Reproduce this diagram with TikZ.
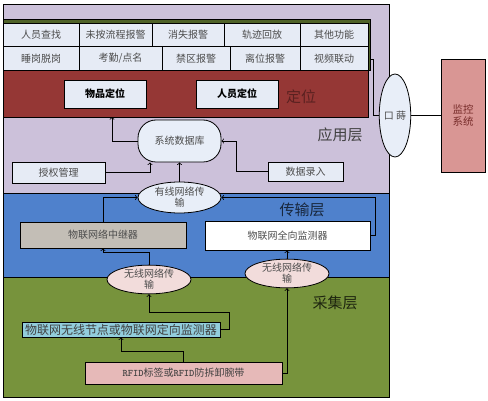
\documentclass[tikz,border=0pt]{standalone}
\usepackage{fontspec}
\setmainfont{Noto Sans CJK SC}
\usetikzlibrary{arrows,calc,shapes.geometric}
\definecolor{AppClr}{HTML}{CCC1DA}
\definecolor{NetClr}{HTML}{4F81CC}
\definecolor{ColClr}{HTML}{77933C}
\definecolor{FrameClr}{HTML}{4F6228}
\definecolor{BandClr}{HTML}{953735}
\definecolor{CellClr}{HTML}{E6EBF5}
\definecolor{WiredClr}{HTML}{E8EEF8}
\definecolor{WlClr}{HTML}{F2DCDB}
\definecolor{RelayClr}{HTML}{C3BEB6}
\definecolor{NodeClr}{HTML}{92CDDC}
\definecolor{RfidClr}{HTML}{E6B9B8}
\definecolor{MonClr}{HTML}{D99694}

\begin{document}
\begin{tikzpicture}[x=1pt,y=-1pt,>=to,line width=0.8pt,
  box/.style={draw,inner sep=0pt,font=\fontsize{10}{11}\selectfont},
  cell/.style={box,fill=CellClr,minimum height=23.5pt,text=black!70},
  oval/.style={draw,ellipse,inner sep=0pt,align=center,font=\fontsize{10}{11}\selectfont,text=black!70},
  layer/.style={font=\fontsize{15}{15}\selectfont}]
\useasboundingbox (0,0) rectangle (488,401);

% layers
\draw[fill=AppClr] (3,4) rectangle (389,193);
\draw[fill=NetClr] (3,193) rectangle (389,277);
\draw[fill=ColClr] (3,277) rectangle (389,397);
\draw[fill=FrameClr] (3,19) rectangle (370,70);
\draw[fill=BandClr] (3,70) rectangle (368,117);

\foreach \xa/\xb/\txt [count=\i] in {3/79/人员查找,79/152/未按流程报警,152/224/消失报警,224/300/轨迹回放,300/368/其他功能}
  \node[cell,minimum width={\xb-\xa}] (ra\i) at ({(\xa+\xb)/2},34.75) {\txt};
\foreach \xa/\xb/\txt [count=\i] in {3/79/睡岗脱岗,79/162/{考勤/点名},162/230/禁区报警,230/300/离位报警,300/368/视频联动}
  \node[cell,minimum width={\xb-\xa}] (rb\i) at ({(\xa+\xb)/2},58.25) {\txt};

\node[box,fill=CellClr,minimum width=82,minimum height=28,font=\fontsize{10}{11}\selectfont\bfseries] (goods) at (105,94) {物品定位};
\node[box,fill=CellClr,minimum width=82,minimum height=28,font=\fontsize{10}{11}\selectfont\bfseries] (staff) at (237,94) {人员定位};
\node[layer,text=BandClr!60!black] (loc) at (301,97) {定位};

\node[layer,text=black!75] (app) at (340,135) {应用层};
\node[layer,text=NetClr!30!black] (net) at (302,210) {传输层};
\node[layer,text=ColClr!25!black] (col) at (335,303) {采集层};

\node[box,fill=WiredClr,rounded corners=18pt,minimum width=83,minimum height=42,text=black!70] (db) at (179.5,141) {系统数据库};
\node[box,fill=CellClr,minimum width=93,minimum height=21,text=black!70] (auth) at (58.5,172.5) {授权管理};
\node[box,fill=CellClr,minimum width=75,minimum height=19,text=black!70] (entry) at (305.5,171.5) {数据录入};

\node[oval,fill=WiredClr,minimum width=83,minimum height=31] (wired) at (179.5,197.5) {有线网络传\\输};
\node[box,fill=RelayClr,minimum width=166,minimum height=26,text=black!70] (relay) at (103,235) {物联网络中继器};
\node[box,fill=white,minimum width=165,minimum height=29,text=black!70] (omni) at (287.5,235.5) {物联网全向监测器};

\node[oval,fill=WlClr,minimum width=84,minimum height=25] (wlL) at (149,279.5) {无线网络传\\输};
\node[oval,fill=WlClr,minimum width=84,minimum height=27] (wlR) at (287,273.5) {无线网络传\\输};

\node[box,fill=NodeClr,minimum width=198,minimum height=15,font=\fontsize{12}{12}\selectfont,text=black!75] (sensor) at (121,329.5) {物联网无线节点或物联网定向监测器};
\node[box,fill=RfidClr,minimum width=197,minimum height=22,text=black!75] (rfid) at (183.5,373) {{\ttfamily\bfseries RFID}标签或{\ttfamily\bfseries RFID}防拆卸腕带};

\node[box,fill=MonClr,minimum width=44,minimum height=113,align=center,font=\fontsize{10.5}{12.5}\selectfont,text=BandClr!80!black] (mon) at (463,115.5) {监控\\系统};
\node[oval,fill=WiredClr,minimum width=26,minimum height=83] (port) at (395,115.5) {口 蒔};

\coordinate (bandbot) at (112,117);
\coordinate (gf) at (370,59);
\coordinate (turn) at (229,312);

\draw[->] (db.west) -| (bandbot);
\draw[->] (auth.east) -| ([xshift=-29.5pt]db.south);
\draw[->] (entry.west) -- ++(-31,0) |- (db.east);
\draw[->] (wired.north) -- (db.south);
\draw[->] (relay.north) |- (wired.west);
\draw[->] (omni.east) -- ++(5,0) |- (wired.east);
\draw[->] (wlL.north) -- ++(0,-12) -| (relay.south);
\draw[->] (wlR.north) -- (wlR.north |- omni.south);
\draw[->] (sensor.east) -| (turn) -| (wlL.south);
\draw[->] (rfid.north) -- ++(0,-10) -| (sensor.south);
\draw[->] (rfid.east) -| (wlR.south);
\draw (gf) -- ++(3,0) |- (port.west);
\draw (port.east) -- (mon.west);

\end{tikzpicture}
\end{document}
